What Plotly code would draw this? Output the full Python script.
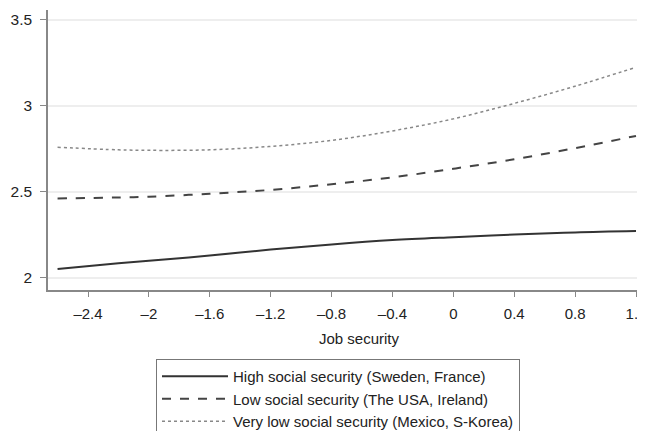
import plotly.graph_objects as go

job_security = [-2.6, -2.2, -2.0, -1.6, -1.2, -0.8, -0.4, 0.0, 0.4, 0.8, 1.2]
high_social = [2.052, 2.085, 2.10, 2.13, 2.165, 2.195, 2.22, 2.237, 2.252, 2.265, 2.273]
low_social = [2.462, 2.468, 2.472, 2.49, 2.512, 2.545, 2.585, 2.635, 2.69, 2.755, 2.826]
very_low_social = [2.76, 2.745, 2.742, 2.745, 2.765, 2.80, 2.855, 2.925, 3.015, 3.115, 3.225]

x_ticks = [-2.4, -2.0, -1.6, -1.2, -0.8, -0.4, 0.0, 0.4, 0.8, 1.2]
x_ticktext = ["\u20132.4", "\u20132", "\u20131.6", "\u20131.2", "\u20130.8", "\u20130.4", "0", "0.4", "0.8", "1.2"]
y_ticks = [2, 2.5, 3, 3.5]
y_ticktext = ["2", "2.5", "3", "3.5"]

series_names = ["High social security (Sweden, France)",
                "Low social security (The USA, Ireland)",
                "Very low social security (Mexico, S-Korea)"]

fig = go.Figure()
fig.add_trace(go.Scatter(x=job_security, y=high_social, mode="lines", name=series_names[0],
                         line=dict(color="#333333", width=2, shape="spline")))
fig.add_trace(go.Scatter(x=job_security, y=low_social, mode="lines", name=series_names[1],
                         line=dict(color="#444444", width=2, dash="dash", shape="spline")))
fig.add_trace(go.Scatter(x=job_security, y=very_low_social, mode="lines", name=series_names[2],
                         line=dict(color="#888888", width=1.5, dash="dot", shape="spline")))

OFF = 8  # page body margin
RIGHT = 660  # plot region continues past the visible edge (cropped like the reference)
FW, FH = RIGHT - OFF, 431 - OFF
L, T, W, H = 48 - OFF, 10 - OFF, RIGHT - 48, 280
PX_PER_UNIT = (636 - 88) / 3.6
x_left = -2.4 - (88 - 48) / PX_PER_UNIT
x_right = 1.2 + (RIGHT - 636) / PX_PER_UNIT

fig.update_layout(
    width=FW, height=FH,
    margin=dict(l=L, r=0, t=T, b=FH - T - H, autoexpand=False),
    paper_bgcolor="white", plot_bgcolor="white",
    font=dict(family="Liberation Sans, Arial, sans-serif", size=15, color="#222222"),
    showlegend=True,
    legend=dict(x=(156 - 48) / W, y=(290 - 359) / H, xanchor="left", yanchor="top",
                bordercolor="#777777", borderwidth=1, bgcolor="white",
                itemwidth=66, tracegroupgap=0,
                font=dict(size=15, color="#222222")),
    xaxis=dict(range=[x_left, x_right], tickmode="array", tickvals=x_ticks, ticktext=x_ticktext,
               showgrid=False, zeroline=False, showline=True, linecolor="#888888", linewidth=1.5,
               ticks="outside", ticklen=5, tickcolor="#888888", ticklabelstandoff=4,
               tickfont=dict(size=15)),
    yaxis=dict(range=[1.930, 3.558], tickmode="array", tickvals=y_ticks, ticktext=y_ticktext,
               showgrid=True, gridcolor="#eeeeee", gridwidth=1.5, zeroline=False,
               showline=True, linecolor="#888888", linewidth=1.5,
               ticks="outside", ticklen=6, tickcolor="#888888", ticklabelstandoff=5,
               tickfont=dict(size=15.5)),
)
fig.add_annotation(text="Job security", xref="paper", yref="paper",
                   x=(359 - 48) / W, y=(290 - 338) / H, showarrow=False,
                   xanchor="center", yanchor="middle", font=dict(size=15, color="#222222"))

fig.write_html("out.html")
